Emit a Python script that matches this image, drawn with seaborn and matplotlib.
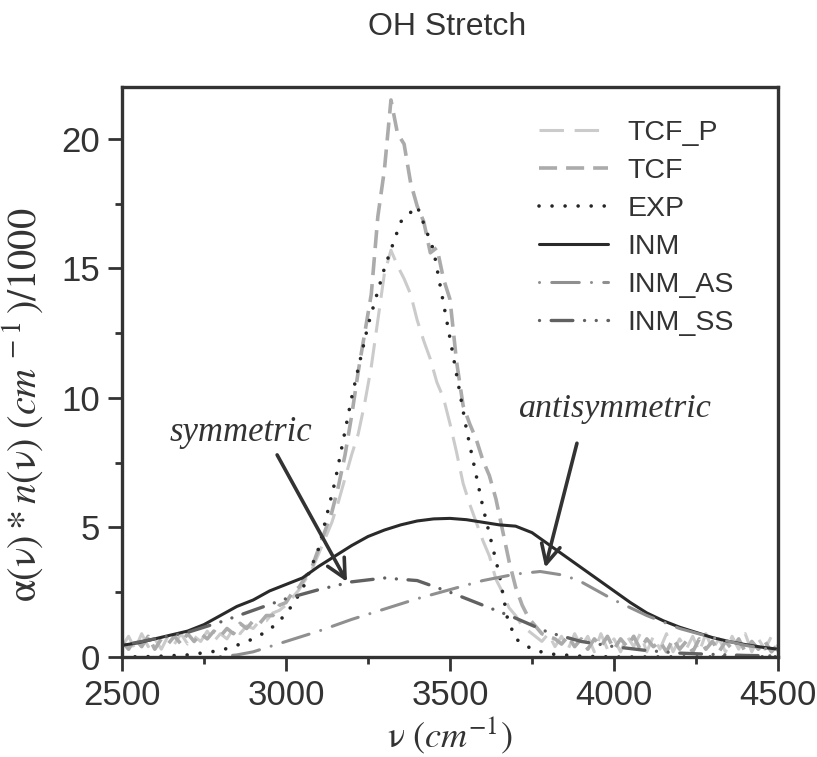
import numpy as np
import pandas as pd
import matplotlib
matplotlib.use("Agg")
import matplotlib.pyplot as plt
import seaborn as sns

# ---------------- data ----------------
tcf_x = list(range(2500, 4501, 20))
tcf_y = [
    0.6, 0.3, 0.7, 0.4, 0.8, 0.3, 0.7, 0.5, 0.8, 0.5,      # 2500-2680
    0.9, 0.6, 0.9, 0.7, 1.0, 0.8, 1.1, 0.9, 1.3, 1.1,      # 2700-2880
    1.4, 1.3, 1.6, 1.6, 2.0, 2.1, 2.5, 2.7, 3.1, 3.5,      # 2900-3080
    4.2, 4.9, 5.6, 6.6, 7.8, 9.3, 11.0, 12.5, 14.0, 17.0,  # 3100-3280
    18.8, 21.5, 20.2, 19.8, 18.3, 17.4, 16.8, 15.6, 15.8, 14.6,  # 3300-3480
    13.8, 11.4, 9.7, 9.0, 8.4, 7.6, 7.0, 6.1, 4.9, 3.7,    # 3500-3680
    2.7, 2.0, 1.5, 1.2, 0.9, 0.8, 0.7, 0.5, 0.8, 0.4,      # 3700-3880
    0.7, 0.3, 0.7, 0.4, 0.8, 0.3, 0.7, 0.4, 0.8, 0.3,      # 3900-4080
    0.7, 0.4, 0.6, 0.2, 0.7, 0.3, 0.6, 0.2, 0.7, 0.3,      # 4100-4280
    0.6, 0.2, 0.6, 0.3, 0.7, 0.2, 0.6, 0.3, 0.6, 0.2,      # 4300-4480
    0.5,                                                   # 4500
]
tcfp_y = [
    0.4, 0.8, 0.3, 0.9, 0.4, 0.7, 0.3, 0.8, 0.5, 0.9,      # 2500-2680
    0.5, 0.8, 0.6, 1.0, 0.6, 0.9, 0.7, 1.1, 0.9, 1.2,      # 2700-2880
    1.1, 1.4, 1.4, 1.7, 1.8, 2.0, 2.3, 2.6, 3.0, 3.4,      # 2900-3080
    4.0, 4.6, 5.2, 6.0, 6.9, 7.8, 8.6, 9.8, 11.2, 13.0,    # 3100-3280
    14.8, 15.7, 15.1, 14.6, 14.0, 13.0, 12.2, 11.5, 10.6, 10.0,  # 3300-3480
    9.0, 7.9, 6.7, 5.9, 5.2, 4.5, 3.9, 3.0, 2.5, 1.9,      # 3500-3680
    1.6, 1.2, 1.0, 0.8, 0.6, 0.9, 0.4, 0.8, 0.3, 0.9,      # 3700-3880
    0.4, 0.8, 0.2, 0.9, 0.3, 0.7, 0.2, 0.8, 0.4, 0.9,      # 3900-4080
    0.2, 0.8, 0.3, 0.9, 0.2, 0.7, 0.3, 0.8, 0.2, 0.9,      # 4100-4280
    0.3, 0.7, 0.2, 0.8, 0.3, 0.9, 0.2, 0.7, 0.3, 0.8,      # 4300-4480
    0.4,                                                   # 4500
]

exp_x = [2500, 2600, 2700, 2800, 2850, 2900, 2950, 3000, 3050, 3100, 3150, 3200,
         3250, 3300, 3350, 3400, 3450, 3500, 3550, 3600, 3650, 3675, 3700, 3750,
         3800, 3900, 4000, 4500]
exp_y = [0.0, 0.02, 0.08, 0.25, 0.45, 0.7, 1.05, 1.65, 2.6, 4.2, 6.8, 10.0,
         12.8, 15.0, 16.8, 17.4, 15.7, 12.3, 8.8, 5.8, 3.2, 1.5, 0.7, 0.3,
         0.12, 0.03, 0.0, 0.0]

inm_x = list(range(2500, 4501, 50))
inm_y = [0.45, 0.55, 0.7, 0.85, 1.0, 1.25, 1.6, 1.95, 2.2, 2.55,
         2.8, 3.05, 3.5, 3.9, 4.3, 4.65, 4.9, 5.1, 5.25, 5.33,
         5.35, 5.3, 5.2, 5.1, 5.05, 4.8, 4.35, 3.9, 3.45, 3.0,
         2.55, 2.1, 1.7, 1.4, 1.15, 0.95, 0.75, 0.6, 0.48, 0.38,
         0.3]

as_x = [2800, 2850, 2900, 3000, 3100, 3200, 3300, 3400, 3500, 3600, 3700, 3775,
        3850, 3900, 4000, 4100, 4200, 4300, 4400, 4500]
as_y = [0.02, 0.08, 0.2, 0.6, 1.0, 1.45, 1.85, 2.25, 2.6, 2.95, 3.2, 3.3,
        3.15, 2.9, 2.2, 1.6, 1.1, 0.75, 0.45, 0.25]

ss_x = list(range(2500, 4501, 100))
ss_y = [0.45, 0.7, 0.95, 1.35, 1.8, 2.25, 2.6, 2.9, 3.05, 2.95, 2.5,
        2.0, 1.5, 0.95, 0.6, 0.4, 0.25, 0.15, 0.1, 0.06, 0.04]

x_ticks = [2500, 3000, 3500, 4000, 4500]
y_ticks = [0, 5, 10, 15, 20]

# ---------------- style ----------------
sns.set_theme(style="ticks")
plt.rcParams["font.family"] = ["Liberation Sans", "DejaVu Sans"]
plt.rcParams["mathtext.fontset"] = "stix"

fig = plt.figure(figsize=(8.17, 7.57), dpi=100)
ax = fig.add_axes([0.1493, 0.1321, 0.8030, 0.7530])

series = [
    ("TCF_P", tcf_x, tcfp_y, "#cbcbcb", 2.2, (0, (8, 3.5)), "butt"),
    ("TCF", tcf_x, tcf_y, "#ababab", 2.6, (0, (5, 2.5)), "butt"),
    ("EXP", exp_x, exp_y, "#262626", 2.6, (0, (0.01, 3.6)), "round"),
    ("INM", inm_x, inm_y, "#2a2a2a", 2.2, "-", "butt"),
    ("INM_AS", as_x, as_y, "#8f8f8f", 2.2, (0, (0.01, 4, 9, 4)), "round"),
    ("INM_SS", ss_x, ss_y, "#616161", 2.4, (0, (0.01, 3.5, 6.5, 3.5, 0.01, 3.5)), "round"),
]

for name, xs, ys, col, lw, ls, cap in series:
    df = pd.DataFrame({"x": xs, "y": ys})
    sns.lineplot(data=df, x="x", y="y", ax=ax, color=col, lw=lw, linestyle=ls,
                 dash_capstyle=cap, label=name, sort=False, estimator=None)

ax.set_xlim(2500, 4500)
ax.set_ylim(0, 22)
ax.set_xticks(x_ticks)
ax.set_yticks(y_ticks)
ax.set_xticks([2750, 3250, 3750, 4250], minor=True)
ax.set_yticks([2.5, 7.5, 12.5, 17.5], minor=True)
ax.tick_params(axis="both", which="major", direction="out", length=10, width=2,
               labelsize=25, colors="#333333", pad=6)
ax.tick_params(axis="both", which="minor", direction="out", length=5, width=2,
               colors="#333333")
for sp in ax.spines.values():
    sp.set_visible(True)
    sp.set_linewidth(2.4)
    sp.set_color("#333333")

ax.set_xlabel(r"$\mathrm{\nu}\ \mathit{(cm^{-1})}$", fontsize=26, color="#333333",
              labelpad=2)
ax.set_ylabel(r"$\mathrm{\alpha(\nu)*}\mathit{n}\mathrm{(\nu)}\ \mathit{(cm^{\,-1}\,)/1000}$",
              fontsize=29, color="#333333")
ax.yaxis.set_label_coords(-0.117, 0.442)

fig.text(447 / 817, 1 - 27 / 757, "OH Stretch", ha="center", va="center",
         fontsize=23, color="#333333")

leg = ax.legend(loc="upper left", bbox_to_anchor=(0.597, 0.9875), frameon=False,
                fontsize=20.5, handlelength=2.4, handletextpad=0.7, labelspacing=0.42,
                labelcolor="#333333")

ax.annotate("", xy=(3186, 2.9), xytext=(2973, 7.8),
            arrowprops=dict(arrowstyle="->", lw=2.6, color="#333333",
                            mutation_scale=34, shrinkA=0, shrinkB=0))
ax.annotate("", xy=(3790, 3.45), xytext=(3887, 8.25),
            arrowprops=dict(arrowstyle="->", lw=2.6, color="#333333",
                            mutation_scale=34, shrinkA=0, shrinkB=0))
ax.text(2863, 8.65, "symmetric", ha="center", va="center", fontsize=25,
        family="Liberation Serif", style="italic", color="#333333")
ax.text(4003, 9.6, "antisymmetric", ha="center", va="center", fontsize=24.5,
        family="Liberation Serif", style="italic", color="#333333")

fig.savefig("out.png", dpi=100)
